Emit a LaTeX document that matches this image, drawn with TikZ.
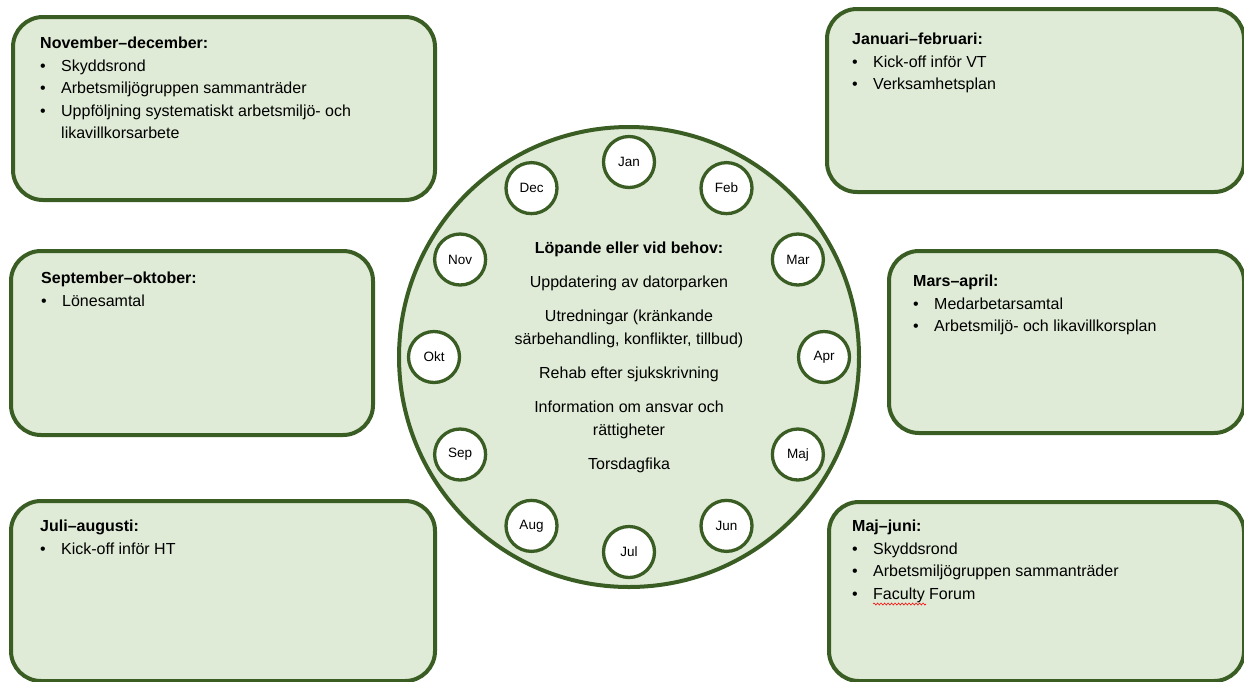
\documentclass[tikz,border=0pt]{standalone}
\usepackage{fontspec}
\setmainfont{Liberation Sans}
\usetikzlibrary{calc,decorations.pathmorphing}

\definecolor{wheelgreen}{HTML}{3A5D24}
\definecolor{wheelfill}{HTML}{DFEBD6}
\newcommand{\itm}[1]{\makebox[21pt][l]{\textbullet}#1}

\tikzset{
  periodbox/.style={draw=wheelgreen, fill=wheelfill, line width=4pt,
    rounded corners=30pt, anchor=north west, inner sep=0pt},
  periodtext/.style={anchor=north west, align=left, inner sep=0pt,
    font=\fontsize{16}{22.5}\selectfont, execute at begin node=\strut},
  monthdot/.style={circle, draw=wheelgreen, fill=white, line width=3.3pt,
    minimum size=51pt, inner sep=0pt, font=\fontsize{13.5}{16}\selectfont},
}

\begin{document}
\begin{tikzpicture}[x=1pt,y=-1pt]
  \useasboundingbox (0,0) rectangle (1244,681);
  \clip (0,0) rectangle (1244,681);

  % boxes round the wheel
  \node[periodbox, minimum width=422pt, minimum height=183pt] (novdec) at (11,15) {};
  \node[periodbox, minimum width=417pt, minimum height=183pt] (janfeb) at (825,7) {};
  \node[periodbox, minimum width=362pt, minimum height=184pt] (sepokt) at (9,249) {};
  \node[periodbox, minimum width=355pt, minimum height=182pt] (marapr) at (887,249) {};
  \node[periodbox, minimum width=424pt, minimum height=180pt] (juliaug) at (9,499) {};
  \node[periodbox, minimum width=415pt, minimum height=179pt] (majjuni) at (827,500) {};

  \node[periodtext] (novdec-t) at ($(novdec.north west)+(29,22)$)
    {\textbf{November–december:}\\
     \itm{Skyddsrond}\\
     \itm{Arbetsmiljögruppen sammanträder}\\
     \itm{Uppföljning systematiskt arbetsmiljö- och}\\
     \hspace*{21pt}likavillkorsarbete};
  \node[periodtext] (janfeb-t) at ($(janfeb.north west)+(27,26)$)
    {\textbf{Januari–februari:}\\
     \itm{Kick-off inför VT}\\
     \itm{Verksamhetsplan}};
  \node[periodtext] (sepokt-t) at ($(sepokt.north west)+(32,23)$)
    {\textbf{September–oktober:}\\
     \itm{Lönesamtal}};
  \node[periodtext] (marapr-t) at ($(marapr.north west)+(26,26)$)
    {\textbf{Mars–april:}\\
     \itm{Medarbetarsamtal}\\
     \itm{Arbetsmiljö- och likavillkorsplan}};
  \node[periodtext] (juliaug-t) at ($(juliaug.north west)+(31,21)$)
    {\textbf{Juli–augusti:}\\
     \itm{Kick-off inför HT}};
  \node[periodtext] (majjuni-t) at ($(majjuni.north west)+(25,20)$)
    {\textbf{Maj–juni:}\\
     \itm{Skyddsrond}\\
     \itm{Arbetsmiljögruppen sammanträder}\\
     \itm{Faculty Forum}};
  \draw[red, line width=0.6pt, decorate,
        decoration={snake, amplitude=1pt, segment length=3.5pt}]
    (873,604) -- (926,604);

  % the wheel
  \node[circle, draw=wheelgreen, fill=wheelfill, line width=4pt,
        minimum size=460pt, inner sep=0pt] (wheel) at (629,357) {};
  \foreach \m [count=\i] in {Jan,Feb,Mar,Apr,Maj,Jun,Jul,Aug,Sep,Okt,Nov,Dec} {
    \node[monthdot] (m\i) at ($(wheel.center)+({\i*30-120}:195)$) {\m};
  }

  \node[anchor=north, align=center, inner sep=0pt,
        font=\fontsize{16}{23}\selectfont, execute at begin node=\strut]
        (ongoing) at (629,242)
    {\textbf{Löpande eller vid behov:}\\[11pt]
     Uppdatering av datorparken\\[11pt]
     Utredningar (kränkande\\
     särbehandling, konflikter, tillbud)\\[11pt]
     Rehab efter sjukskrivning\\[11pt]
     Information om ansvar och\\
     rättigheter\\[11pt]
     Torsdagfika};
\end{tikzpicture}
\end{document}
